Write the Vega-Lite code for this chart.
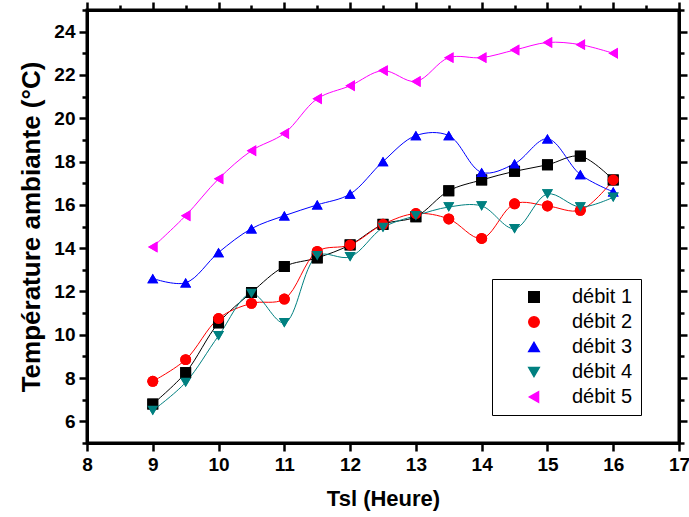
{
  "$schema": "https://vega.github.io/schema/vega-lite/v6.json",
  "width": 592,
  "height": 433,
  "autosize": {"type": "none"},
  "padding": {"left": 87, "top": 10, "right": 10, "bottom": 74},
  "background": "white",
  "config": {
    "view": {"stroke": "black", "strokeWidth": 3},
    "font": "Liberation Sans"
  },
  "data": {
    "values": [
      {"t": 9, "v": 6.8, "s": "débit 1"}, {"t": 9.5, "v": 8.25, "s": "débit 1"}, {"t": 10, "v": 10.55, "s": "débit 1"}, {"t": 10.5, "v": 11.95, "s": "débit 1"}, {"t": 11, "v": 13.15, "s": "débit 1"}, {"t": 11.5, "v": 13.55, "s": "débit 1"}, {"t": 12, "v": 14.15, "s": "débit 1"}, {"t": 12.5, "v": 15.1, "s": "débit 1"}, {"t": 13, "v": 15.45, "s": "débit 1"}, {"t": 13.5, "v": 16.65, "s": "débit 1"}, {"t": 14, "v": 17.15, "s": "débit 1"}, {"t": 14.5, "v": 17.55, "s": "débit 1"}, {"t": 15, "v": 17.85, "s": "débit 1"}, {"t": 15.5, "v": 18.25, "s": "débit 1"}, {"t": 16, "v": 17.15, "s": "débit 1"},
      {"t": 9, "v": 7.85, "s": "débit 2"}, {"t": 9.5, "v": 8.85, "s": "débit 2"}, {"t": 10, "v": 10.75, "s": "débit 2"}, {"t": 10.5, "v": 11.45, "s": "débit 2"}, {"t": 11, "v": 11.65, "s": "débit 2"}, {"t": 11.5, "v": 13.85, "s": "débit 2"}, {"t": 12, "v": 14.15, "s": "débit 2"}, {"t": 12.5, "v": 15.1, "s": "débit 2"}, {"t": 13, "v": 15.6, "s": "débit 2"}, {"t": 13.5, "v": 15.35, "s": "débit 2"}, {"t": 14, "v": 14.45, "s": "débit 2"}, {"t": 14.5, "v": 16.05, "s": "débit 2"}, {"t": 15, "v": 15.95, "s": "débit 2"}, {"t": 15.5, "v": 15.75, "s": "débit 2"}, {"t": 16, "v": 17.15, "s": "débit 2"},
      {"t": 9, "v": 12.6, "s": "débit 3"}, {"t": 9.5, "v": 12.4, "s": "débit 3"}, {"t": 10, "v": 13.8, "s": "débit 3"}, {"t": 10.5, "v": 14.9, "s": "débit 3"}, {"t": 11, "v": 15.5, "s": "débit 3"}, {"t": 11.5, "v": 16.0, "s": "débit 3"}, {"t": 12, "v": 16.5, "s": "débit 3"}, {"t": 12.5, "v": 18.0, "s": "débit 3"}, {"t": 13, "v": 19.2, "s": "débit 3"}, {"t": 13.5, "v": 19.2, "s": "débit 3"}, {"t": 14, "v": 17.5, "s": "débit 3"}, {"t": 14.5, "v": 17.9, "s": "débit 3"}, {"t": 15, "v": 19.05, "s": "débit 3"}, {"t": 15.5, "v": 17.4, "s": "débit 3"}, {"t": 16, "v": 16.6, "s": "débit 3"},
      {"t": 9, "v": 6.5, "s": "débit 4"}, {"t": 9.5, "v": 7.8, "s": "débit 4"}, {"t": 10, "v": 9.95, "s": "débit 4"}, {"t": 10.5, "v": 11.9, "s": "débit 4"}, {"t": 11, "v": 10.55, "s": "débit 4"}, {"t": 11.5, "v": 13.65, "s": "débit 4"}, {"t": 12, "v": 13.6, "s": "débit 4"}, {"t": 12.5, "v": 14.95, "s": "débit 4"}, {"t": 13, "v": 15.5, "s": "débit 4"}, {"t": 13.5, "v": 15.9, "s": "débit 4"}, {"t": 14, "v": 15.95, "s": "débit 4"}, {"t": 14.5, "v": 14.9, "s": "débit 4"}, {"t": 15, "v": 16.5, "s": "débit 4"}, {"t": 15.5, "v": 15.9, "s": "débit 4"}, {"t": 16, "v": 16.35, "s": "débit 4"},
      {"t": 9, "v": 14.05, "s": "débit 5"}, {"t": 9.5, "v": 15.5, "s": "débit 5"}, {"t": 10, "v": 17.2, "s": "débit 5"}, {"t": 10.5, "v": 18.5, "s": "débit 5"}, {"t": 11, "v": 19.3, "s": "débit 5"}, {"t": 11.5, "v": 20.9, "s": "débit 5"}, {"t": 12, "v": 21.5, "s": "débit 5"}, {"t": 12.5, "v": 22.2, "s": "débit 5"}, {"t": 13, "v": 21.7, "s": "débit 5"}, {"t": 13.5, "v": 22.8, "s": "débit 5"}, {"t": 14, "v": 22.8, "s": "débit 5"}, {"t": 14.5, "v": 23.15, "s": "débit 5"}, {"t": 15, "v": 23.5, "s": "débit 5"}, {"t": 15.5, "v": 23.4, "s": "débit 5"}, {"t": 16, "v": 23.0, "s": "débit 5"}
    ]
  },
  "layer": [
    {
      "mark": {"type": "point", "filled": true, "size": 120, "opacity": 1},
      "encoding": {
        "x": {
          "field": "t", "type": "quantitative",
          "scale": {"domain": [8, 17], "nice": false, "zero": false},
          "axis": {
            "title": "Tsl (Heure)",
            "titleFont": "Liberation Sans", "titleFontSize": 22, "titleFontWeight": "bold", "titlePadding": 14, "titleColor": "black",
            "values": [8, 8.5, 9, 9.5, 10, 10.5, 11, 11.5, 12, 12.5, 13, 13.5, 14, 14.5, 15, 15.5, 16, 16.5, 17],
            "format": "d",
            "labelExpr": "datum.value % 1 == 0 ? datum.label : ''",
            "labelFont": "Liberation Sans", "labelFontSize": 19, "labelFontWeight": "bold", "labelColor": "black", "labelPadding": 4,
            "grid": false, "domainColor": "black", "domainWidth": 3, "tickColor": "black", "tickWidth": 2.5,
            "tickSize": {"condition": {"test": "datum.value % 1 == 0", "value": 8}, "value": 5},
            "labelFlush": false, "labelOverlap": false
          }
        },
        "y": {
          "field": "v", "type": "quantitative",
          "scale": {"domain": [5, 25], "nice": false, "zero": false},
          "axis": {
            "title": "Température ambiante (°C)",
            "titleFont": "Liberation Sans", "titleFontSize": 26, "titleFontWeight": "bold", "titlePadding": 9, "titleColor": "black",
            "values": [5, 6, 7, 8, 9, 10, 11, 12, 13, 14, 15, 16, 17, 18, 19, 20, 21, 22, 23, 24, 25],
            "labelExpr": "datum.value % 2 == 0 && datum.value > 5 && datum.value < 25 ? datum.label : ''",
            "labelFont": "Liberation Sans", "labelFontSize": 19, "labelFontWeight": "bold", "labelColor": "black", "labelPadding": 4,
            "grid": false, "domainColor": "black", "domainWidth": 3, "tickColor": "black", "tickWidth": 2.5,
            "tickSize": {"condition": {"test": "datum.value % 2 == 0", "value": 8}, "value": 5},
            "labelOverlap": false
          }
        },
        "color": {
          "field": "s", "type": "nominal",
          "scale": {"domain": ["débit 1", "débit 2", "débit 3", "débit 4", "débit 5"], "range": ["#000000", "#FF0000", "#0000FF", "#008080", "#FF00FF"]},
          "legend": {
            "title": null, "orient": "none", "legendX": 405, "legendY": 269,
            "strokeColor": "black", "fillColor": "white", "padding": 8,
            "labelFont": "Liberation Sans", "labelFontSize": 20, "labelColor": "black",
            "symbolSize": 110, "rowPadding": 5, "labelOffset": 28, "symbolOffset": 24,
            "encode": {
              "symbols": {
                "shape": {"value": {"expr": "datum.value == 'débit 1' ? 'M-0.8,-0.8H0.8V0.8H-0.8ZM-4.6,0H-1.3M1.3,0H4.6' : datum.value == 'débit 2' ? 'M0.95,0A0.95,0.95,0,1,1,-0.95,0A0.95,0.95,0,1,1,0.95,0ZM-4.6,0H-1.3M1.3,0H4.6' : datum.value == 'débit 3' ? 'M0,-1.1L1.15,0.85H-1.15ZM-4.6,0H-1.4M1.4,0H4.6' : datum.value == 'débit 4' ? 'M0,1.1L1.15,-0.85H-1.15ZM-4.6,0H-1.4M1.4,0H4.6' : 'M-1.1,0L0.85,-1.15V1.15ZM-4.6,0H-1.4M1.4,0H4.6'"}},
                "stroke": {"value": {"expr": "scale('color', datum.value)"}},
                "strokeWidth": {"value": 1}
              }
            }
          }
        },
        "shape": {
          "field": "s", "type": "nominal",
          "scale": {"domain": ["débit 1", "débit 2", "débit 3", "débit 4", "débit 5"], "range": ["square", "circle", "triangle-up", "triangle-down", "triangle-left"]},
          "legend": null
        }
      }
    },
    {
      "mark": {"type": "line", "interpolate": "catmull-rom", "strokeWidth": 1},
      "encoding": {
        "x": {"field": "t", "type": "quantitative", "axis": null},
        "y": {"field": "v", "type": "quantitative", "axis": null},
        "color": {
          "field": "s", "type": "nominal",
          "scale": {"domain": ["débit 1", "débit 2", "débit 3", "débit 4", "débit 5"], "range": ["#000000", "#FF0000", "#0000FF", "#008080", "#FF00FF"]}
        },
        "detail": {"field": "s"}
      }
    },
    {
      "mark": {"type": "point", "filled": true, "size": 120, "opacity": 1},
      "encoding": {
        "x": {"field": "t", "type": "quantitative", "axis": {"orient": "top", "labels": false, "title": null, "grid": false, "domainColor": "black", "domainWidth": 3, "tickColor": "black", "tickWidth": 2.5, "values": [8, 8.5, 9, 9.5, 10, 10.5, 11, 11.5, 12, 12.5, 13, 13.5, 14, 14.5, 15, 15.5, 16, 16.5, 17], "tickSize": {"condition": {"test": "datum.value % 1 == 0", "value": 8}, "value": 5}}},
        "y": {"field": "v", "type": "quantitative", "axis": {"orient": "right", "labels": false, "title": null, "grid": false, "domainColor": "black", "domainWidth": 3, "tickColor": "black", "tickWidth": 2.5, "values": [5, 6, 7, 8, 9, 10, 11, 12, 13, 14, 15, 16, 17, 18, 19, 20, 21, 22, 23, 24, 25], "tickSize": {"condition": {"test": "datum.value % 2 == 0", "value": 8}, "value": 5}}},
        "color": {
          "field": "s", "type": "nominal",
          "scale": {"domain": ["débit 1", "débit 2", "débit 3", "débit 4", "débit 5"], "range": ["#000000", "#FF0000", "#0000FF", "#008080", "#FF00FF"]}
        },
        "shape": {
          "field": "s", "type": "nominal",
          "scale": {"domain": ["débit 1", "débit 2", "débit 3", "débit 4", "débit 5"], "range": ["square", "circle", "triangle-up", "triangle-down", "triangle-left"]},
          "legend": null
        }
      }
    }
  ],
  "resolve": {"axis": {"x": "independent", "y": "independent"}}
}
